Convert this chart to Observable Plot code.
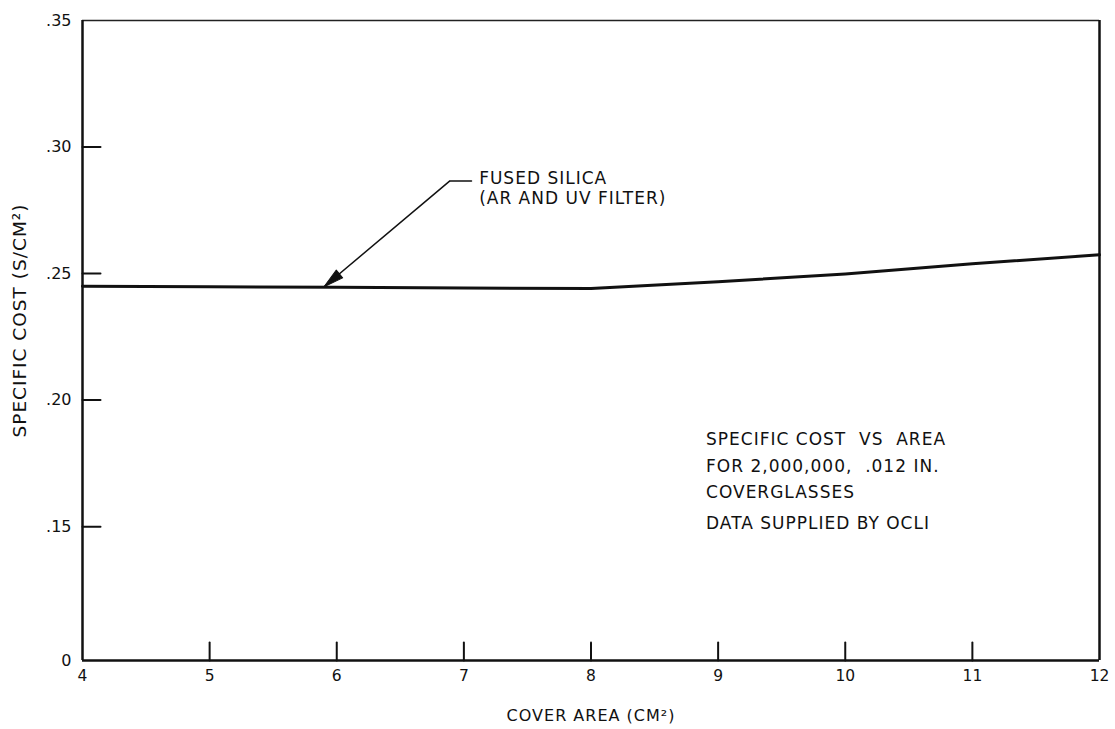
<!DOCTYPE html>
<html><head><meta charset="utf-8">
<script src="https://cdn.jsdelivr.net/npm/d3@7"></script>
<script src="https://cdn.jsdelivr.net/npm/@observablehq/plot@0.6"></script>
<style>body{margin:0;background:#fff} svg text{white-space:pre} svg g[aria-label="text"] text{letter-spacing:1px}</style>
</head><body><div id="chart"></div>
<script>
// Data
const coverArea = [4, 5, 6, 7, 8, 9, 10, 11, 12];
const specificCost = [0.2450, 0.2448, 0.2446, 0.2443, 0.2441, 0.2468, 0.2498, 0.2539, 0.2574];
const xTicks = [4, 5, 6, 7, 8, 9, 10, 11, 12];
const xInnerTicks = [5, 6, 7, 8, 9, 10, 11];
const yBreak = 0.0971; // broken axis: bottom labelled 0
const yTicks = [yBreak, 0.15, 0.20, 0.25, 0.30, 0.35];
const yTickLabels = ["0", ".15", ".20", ".25", ".30", ".35"];
const yInnerTicks = [0.15, 0.20, 0.25, 0.30];
const seriesLabel = ["FUSED SILICA", "(AR AND UV FILTER)"];
const noteLines = ["SPECIFIC COST  VS  AREA", "FOR 2,000,000,  .012 IN.", "COVERGLASSES", "DATA SUPPLIED BY OCLI"];
const xTitle = "COVER AREA (CM²)";
const yTitle = "SPECIFIC COST (S/CM²)";

// annotation anchor points (data units)
const arrowTail = {x: 6.89, y: 0.2866};
const arrowTip = {x: 5.9, y: 0.2448};
const leaderEnd = {x: 7.06, y: 0.2866};
const labelPos = [{x: 7.12, y: 0.2874}, {x: 7.12, y: 0.2795}];
const notePos = [{x: 8.905, y: 0.1846}, {x: 8.905, y: 0.1739}, {x: 8.905, y: 0.1636}, {x: 8.905, y: 0.1514}];

const data = coverArea.map((x, i) => ({x, y: specificCost[i]}));
const tickShape = {draw(ctx, l) { ctx.moveTo(0, 0); ctx.lineTo(0, -l); }};
const headShape = {draw(ctx, l) { ctx.moveTo(0, -l); ctx.lineTo(-5, 0); ctx.lineTo(5, 0); ctx.closePath(); }};
const font = "'DejaVu Sans', sans-serif";

const chart = Plot.plot({
  width: 1115,
  height: 729,
  marginLeft: 82,
  marginRight: 16,
  marginTop: 20,
  marginBottom: 69,
  style: {fontFamily: font, fontSize: "14px", color: "#111", background: "#fff"},
  x: {domain: [4, 12]},
  y: {domain: [yBreak, 0.35]},
  marks: [
    Plot.ruleY([0.35], {stroke: "#222", strokeWidth: 1.3}),
    Plot.ruleY([yBreak], {stroke: "#111", strokeWidth: 2.5}),
    Plot.ruleX([4], {stroke: "#111", strokeWidth: 2.5}),
    Plot.ruleX([12], {stroke: "#111", strokeWidth: 2.5}),
    Plot.vector(xInnerTicks, {x: d => d, y: yBreak, length: 18, rotate: 0, anchor: "start", shape: tickShape, stroke: "#111", strokeWidth: 2}),
    Plot.vector(yInnerTicks, {x: 4, y: d => d, length: 18, rotate: 90, anchor: "start", shape: tickShape, stroke: "#111", strokeWidth: 2}),
    Plot.axisX({ticks: xTicks, tickSize: 0, tickPadding: 9, label: null, tickFormat: d => String(d), fontSize: 15.5}),
    Plot.axisY({ticks: yTicks, tickSize: 0, tickPadding: 11, label: null, tickFormat: d => yTickLabels[yTicks.indexOf(d)], fontSize: 16}),
    Plot.line(data, {x: "x", y: "y", stroke: "#111", strokeWidth: 3}),
    Plot.link([0], {x1: arrowTail.x, y1: arrowTail.y, x2: arrowTip.x, y2: arrowTip.y, stroke: "#111", strokeWidth: 1.5}),
    Plot.vector([0], {x: arrowTip.x, y: arrowTip.y, length: 20, rotate: 230.5, anchor: "end", shape: headShape, fill: "#111", stroke: "#111", strokeWidth: 1}),
    Plot.line([arrowTail, leaderEnd], {x: "x", y: "y", stroke: "#111", strokeWidth: 1.5}),
    Plot.text(seriesLabel, {x: (d, i) => labelPos[i].x, y: (d, i) => labelPos[i].y, text: d => d, textAnchor: "start", fontSize: 17, fill: "#111"}),
    Plot.text(noteLines, {x: (d, i) => notePos[i].x, y: (d, i) => notePos[i].y, text: d => d, textAnchor: "start", fontSize: 17, fill: "#111"}),
    Plot.text([xTitle], {frameAnchor: "bottom", lineAnchor: "middle", textAnchor: "middle", dy: 55, text: d => d, fontSize: 16, fill: "#111"}),
    Plot.text([yTitle], {frameAnchor: "left", lineAnchor: "middle", textAnchor: "middle", dx: -62, dy: -20, rotate: -90, text: d => d, fontSize: 18.5, fill: "#111"})
  ]
});
document.getElementById("chart").append(chart);
</script>
</body></html>
